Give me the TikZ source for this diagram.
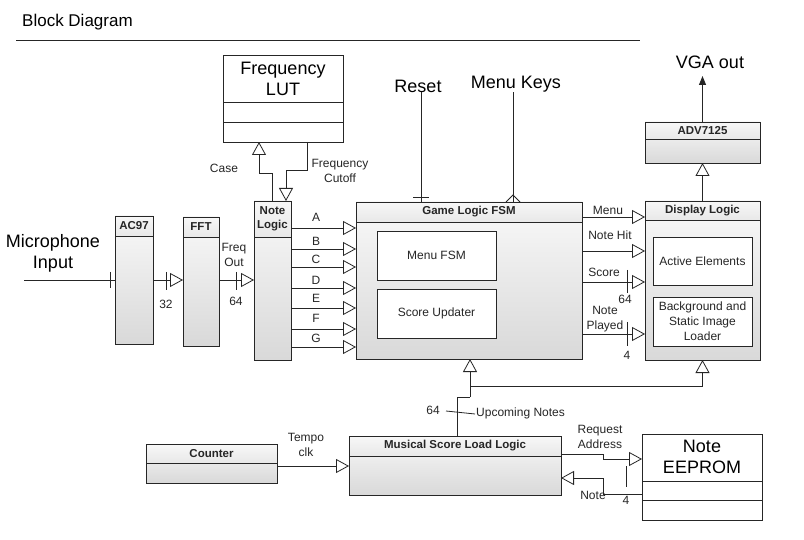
\documentclass[tikz,border=0pt]{standalone}
\usepackage{fontspec}
\setmainfont{Liberation Sans}
\usetikzlibrary{arrows.meta}
\tikzset{
 ln/.style={line width=0.8pt, draw=black!85},
 body/.style={ln, top color=gray!5, bottom color=gray!30, inner sep=0pt, outer sep=0pt},
 head/.style={ln, top color=gray!6, bottom color=gray!18, inner sep=0pt, outer sep=0pt, font=\bfseries\fontsize{11.5}{13.5}\selectfont, align=center, text=black!85},
 wbox/.style={ln, fill=white, inner sep=0pt, outer sep=0pt, font=\fontsize{12}{15}\selectfont, align=center, text=black!85},
 lbl/.style={inner sep=0pt, font=\fontsize{12}{15}\selectfont, align=center, text=black!85},
 big/.style={inner sep=0pt, font=\fontsize{18}{21}\selectfont, align=center},
 tri/.style={ln, -{Triangle[length=13pt,width=14pt,fill=white,line width=0.8pt]}},
 solidtip/.style={ln, -{Triangle[length=9pt,width=7pt]}},
}
\newcommand\myblk[7]{%
 \node[body, anchor=north west, minimum width=#4pt, minimum height=#5pt] (#1) at (#2,#3) {};
 \node[head, anchor=north west, minimum width=#4pt, minimum height=#6pt] (#1h) at (#2,#3) {#7};
}
\begin{document}
\begin{tikzpicture}[x=1pt,y=-1pt]
\useasboundingbox[fill=white] (0,0) rectangle (804,540);
% title
\node[inner sep=0pt, anchor=west, font=\fontsize{17}{20}\selectfont] (title) at (22,22) {Block Diagram};
\draw[ln] (16,40) -- (640,40);

% blocks
\myblk{ac97}{115}{216}{38}{128}{20}{AC97}
\myblk{fft}{183}{217}{36}{129}{20}{FFT}
\myblk{nl}{254}{201}{37}{159}{36}{Note\\Logic}
\myblk{gl}{356}{202}{226}{157}{20}{Game Logic FSM}
\myblk{dl}{645}{201}{115}{159}{19}{Display Logic}
\myblk{adv}{645}{122}{115}{41}{17}{ADV7125}
\myblk{msll}{349}{436}{212}{59}{20}{Musical Score Load Logic}
\myblk{cnt}{146}{444}{131}{39}{19}{Counter}

% white boxes
\node[wbox, anchor=north west, minimum width=120pt, minimum height=87pt] (lut) at (223,55) {};
\draw[ln] (lut.west |- 0,102) -- (lut.east |- 0,102);
\draw[ln] (lut.west |- 0,122) -- (lut.east |- 0,122);
\node[big] (luttxt) at (283,79) {Frequency\\LUT};

\node[wbox, anchor=north west, minimum width=120pt, minimum height=86pt] (ee) at (642,434) {};
\draw[ln] (ee.west |- 0,481) -- (ee.east |- 0,481);
\draw[ln] (ee.west |- 0,500) -- (ee.east |- 0,500);
\node[big] (eetxt) at (702,457) {Note\\EEPROM};

\node[wbox, anchor=north west, minimum width=119pt, minimum height=49pt] (mfsm) at (377,231) {Menu FSM};
\node[wbox, anchor=north west, minimum width=119pt, minimum height=49pt] (supd) at (377,289) {Score Updater};
\node[wbox, anchor=north west, minimum width=99pt, minimum height=48pt] (act) at (653,237) {Active Elements};
\node[wbox, anchor=north west, minimum width=99pt, minimum height=49pt] (bg) at (653,297) {Background and\\Static Image\\Loader};

% big labels
\node[big] (mic) at (53,253) {Microphone\\Input};
\node[big] (reset) at (418,86) {Reset};
\node[big] (mkeys) at (516,84) {Menu Keys};
\node[big] (vga) at (710,62) {VGA out};

% microphone -> AC97
\coordinate (micend) at (24,280);
\draw[ln] (micend) -- (ac97.west |- micend);
\draw[ln] (110,272) -- (110,288);
% AC97 -> FFT
\draw[tri] (ac97.east |- 0,280) -- (fft.west |- 0,280);
\draw[ln] (166,272) -- (166,290);
\node[lbl] (l32) at (166,304) {32};
% FFT -> Note Logic
\draw[tri] (fft.east |- 0,280) -- (nl.west |- 0,280);
\draw[ln] (236,272) -- (236,290);
\node[lbl] (l64a) at (236,301) {64};
\node[lbl] (freqout) at (234,255) {Freq\\Out};

% Note Logic <-> LUT
\draw[tri] (nl.north) |- (259,173) -- (lut.south -| 259,0);
\draw[tri] (lut.south -| 307,0) |- (286,170) -- (nl.north -| 286,0);
\node[lbl] (case) at (224,168) {Case};
\node[lbl] (fcut) at (340,171) {Frequency\\Cutoff};

% A-G
\foreach \n/\y/\ly in {A/228/217, B/249/241, C/267/259, D/288/280, E/308/298, F/329/318, G/347/338}{
  \draw[tri] (nl.east |- 0,\y) -- (gl.west |- 0,\y);
  \node[lbl] (lab\n) at (316,\ly) {\n};
}

% Reset and Menu keys
\draw[ln] (reset.south -| 421,0) -- (gl.north -| 421,0);
\draw[ln] (413,197) -- (429,197);
\draw[ln] (mkeys.south -| 513,0) -- (gl.north -| 513,0);
\draw[ln] (506,202) -- (513,195) -- (520,202);

% Game logic -> Display
\draw[tri] (gl.east |- 0,217) -- (dl.west |- 0,217);
\node[lbl] (lmenu) at (608,210) {Menu};
\draw[tri] (gl.east |- 0,251) -- (dl.west |- 0,251);
\node[lbl] (lhit) at (610,235) {Note Hit};
\draw[tri] (gl.east |- 0,282) -- (dl.west |- 0,282);
\node[lbl] (lscore) at (604,272) {Score};
\draw[ln] (627,270) -- (627,293);
\node[lbl] (l64b) at (625,299) {64};
\draw[tri] (gl.east |- 0,334) -- (dl.west |- 0,334);
\node[lbl] (lplayed) at (605,319) {Note\\Played};
\draw[ln] (627,322) -- (627,346);
\node[lbl] (l4a) at (627,355) {4};

% Display -> ADV -> VGA
\draw[tri] (dl.north) -- (adv.south);
\coordinate (vgatip) at (advh.north |- 0,76);
\draw[solidtip] (advh.north) -- (vgatip);

% Upcoming notes bus
\coordinate (j1) at (470,397);
\coordinate (j2) at (470,386);
\draw[ln] (msll.north -| 457,0) |- (j1);
\draw[tri] (j1) -- (gl.south -| j1);
\draw[tri] (j2) -| (dl.south);
\draw[ln] (446,411) -- (475,414);
\node[lbl] (l64c) at (433,410) {64};
\node[lbl, anchor=west] (upc) at (476,413) {Upcoming Notes};

% MSLL <-> EEPROM
\draw[tri] (msll.east |- 0,454) -- (603,454) -- (603,459) -- (ee.west |- 0,459);
\node[lbl] (req) at (600,437) {Request\\Address};
\draw[tri] (ee.west |- 0,494) -- (603,494) -- (603,478) -- (msll.east |- 0,478);
\node[lbl] (lnote) at (593,495) {Note};
\draw[ln] (626,466) -- (626,487);
\node[lbl] (l4b) at (626,500) {4};

% Counter -> MSLL
\draw[tri] (cnt.east |- 0,466) -- (msll.west |- 0,466);
\node[lbl] (tempo) at (306,445) {Tempo\\clk};
\end{tikzpicture}
\end{document}
